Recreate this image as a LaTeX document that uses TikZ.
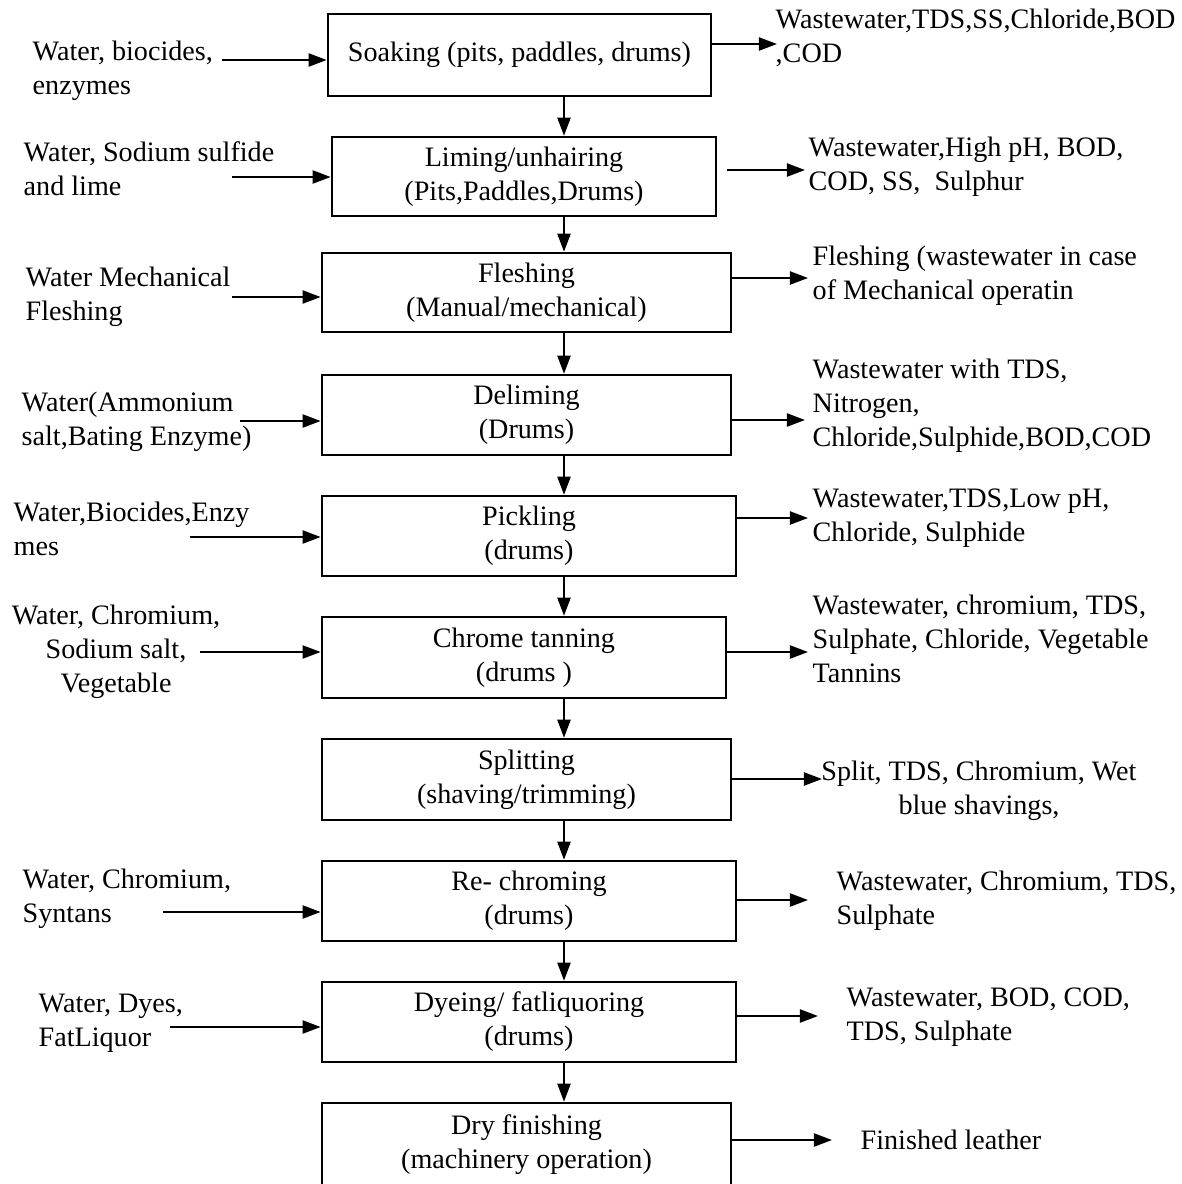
\documentclass[tikz,border=0pt]{standalone}
\usepackage{fontspec}
\setmainfont{Liberation Serif}
\usetikzlibrary{arrows.meta}

\begin{document}
\begin{tikzpicture}[x=0.01cm, y=-0.01cm,
        font=\fontsize{8}{9.67}\selectfont,
        box/.style={draw, line width=0.7pt, align=center, inner sep=0pt},
        arr/.style={-{Triangle[length=0.18cm, width=0.13cm]}, line width=0.6pt},
        lbl/.style={align=left, anchor=west, inner sep=0pt}]
        \useasboundingbox (0,0) rectangle (1182,1184);
        \clip (0,0) rectangle (1182,1184);

        % Process steps
        \node[box, minimum width=3.83cm, minimum height=0.82cm] (soak) at (519.5,55) {Soaking (pits, paddles, drums)};
        \node[box, minimum width=3.84cm, minimum height=0.79cm] (lime) at (524,176.5) {Liming/unhairing\\(Pits,Paddles,Drums)};
        \node[box, minimum width=4.09cm, minimum height=0.79cm] (flesh) at (526.5,292.5) {Fleshing\\(Manual/mechanical)};
        \node[box, minimum width=4.09cm, minimum height=0.80cm] (delime) at (526.5,415) {Deliming\\(Drums)};
        \node[box, minimum width=4.14cm, minimum height=0.80cm] (pickle) at (529,536) {Pickling\\(drums)};
        \node[box, minimum width=4.04cm, minimum height=0.81cm] (chrome) at (524,657.5) {Chrome tanning\\(drums )};
        \node[box, minimum width=4.09cm, minimum height=0.81cm] (split) at (526.5,779.5) {Splitting\\(shaving/trimming)};
        \node[box, minimum width=4.14cm, minimum height=0.80cm] (rechrome) at (529,901) {Re- chroming\\(drums)};
        \node[box, minimum width=4.14cm, minimum height=0.80cm] (dye) at (529,1022) {Dyeing/ fatliquoring\\(drums)};
        \node[box, minimum width=4.09cm, minimum height=0.84cm] (dry) at (526.5,1145) {Dry finishing\\(machinery operation)};

        % Main flow
        \coordinate (col) at (564,0);
        \draw[arr] (soak.south -| col) -- (lime.north -| col);
        \draw[arr] (lime.south -| col) -- (flesh.north -| col);
        \draw[arr] (flesh.south -| col) -- (delime.north -| col);
        \draw[arr] (delime.south -| col) -- (pickle.north -| col);
        \draw[arr] (pickle.south -| col) -- (chrome.north -| col);
        \draw[arr] (chrome.south -| col) -- (split.north -| col);
        \draw[arr] (split.south -| col) -- (rechrome.north -| col);
        \draw[arr] (rechrome.south -| col) -- (dye.north -| col);
        \draw[arr] (dye.south -| col) -- (dry.north -| col);

        % Inputs
        \node[lbl] (in1) at (32,71) {Water, biocides,\\enzymes};
        \coordinate (a1) at (222,60);
        \draw[arr] (a1) -- (a1 -| soak.west);
        \node[lbl] (in2) at (23,169) {Water, Sodium sulfide\\and lime};
        \coordinate (a2) at (232,177);
        \draw[arr] (a2) -- (a2 -| lime.west);
        \node[lbl] (in3) at (25,297) {Water Mechanical\\Fleshing};
        \coordinate (a3) at (232,297);
        \draw[arr] (a3) -- (a3 -| flesh.west);
        \node[lbl] (in4) at (21,422) {Water(Ammonium\\salt,Bating Enzyme)};
        \coordinate (a4) at (240,421);
        \draw[arr] (a4) -- (a4 -| delime.west);
        \node[lbl] (in5) at (13,529) {Water,Biocides,Enzy\\mes};
        \coordinate (a5) at (190,537);
        \draw[arr] (a5) -- (a5 -| pickle.west);
        \node[align=center, inner sep=0pt] (in6) at (116,652) {Water, Chromium,\\Sodium salt,\\Vegetable};
        \coordinate (a6) at (200,652);
        \draw[arr] (a6) -- (a6 -| chrome.west);
        \node[lbl] (in8) at (22,899) {Water, Chromium,\\Syntans};
        \coordinate (a8) at (163,912);
        \draw[arr] (a8) -- (a8 -| rechrome.west);
        \node[lbl] (in9) at (38,1023) {Water, Dyes,\\FatLiquor};
        \coordinate (a9) at (170,1027);
        \draw[arr] (a9) -- (a9 -| dye.west);

        % Outputs
        \node[lbl] (out1) at (775,38) {Wastewater,TDS,SS,Chloride,BOD\\,COD};
        \coordinate (b1) at (777,44);
        \draw[arr] (b1 -| soak.east) -- (b1);
        \node[lbl] (out2) at (808,166.5) {Wastewater,High pH, BOD,\\COD, SS,\ \ Sulphur};
        \coordinate (b2) at (805,170);
        \draw[arr, shorten <=0.1cm] (b2 -| lime.east) -- (b2);
        \node[lbl] (out3) at (812,276) {Fleshing (wastewater in case\\of Mechanical operatin};
        \coordinate (b3) at (808,278);
        \draw[arr] (b3 -| flesh.east) -- (b3);
        \node[lbl] (out4) at (812,405.5) {Wastewater with TDS,\\Nitrogen,\\Chloride,Sulphide,BOD,COD};
        \coordinate (b4) at (805,420);
        \draw[arr] (b4 -| delime.east) -- (b4);
        \node[lbl] (out5) at (812,518) {Wastewater,TDS,Low pH,\\Chloride, Sulphide};
        \coordinate (b5) at (808,518);
        \draw[arr] (b5 -| pickle.east) -- (b5);
        \node[lbl] (out6) at (812,638.5) {Wastewater, chromium, TDS,\\Sulphate, Chloride, Vegetable\\Tannins};
        \coordinate (b6) at (808,652);
        \draw[arr] (b6 -| chrome.east) -- (b6);
        \node[align=center, inner sep=0pt] (out7) at (979,791) {Split, TDS, Chromium, Wet\\blue shavings,};
        \coordinate (b7) at (822,779);
        \draw[arr] (b7 -| split.east) -- (b7);
        \node[lbl] (out8) at (836,900.5) {Wastewater, Chromium, TDS,\\Sulphate};
        \coordinate (b8) at (808,900);
        \draw[arr] (b8 -| rechrome.east) -- (b8);
        \node[lbl] (out9) at (846,1017) {Wastewater, BOD, COD,\\TDS, Sulphate};
        \coordinate (b9) at (818,1016);
        \draw[arr] (b9 -| dye.east) -- (b9);
        \node[lbl] (out10) at (860,1140) {Finished leather};
        \coordinate (b10) at (832,1140);
        \draw[arr] (b10 -| dry.east) -- (b10);
    \end{tikzpicture}
\end{document}
